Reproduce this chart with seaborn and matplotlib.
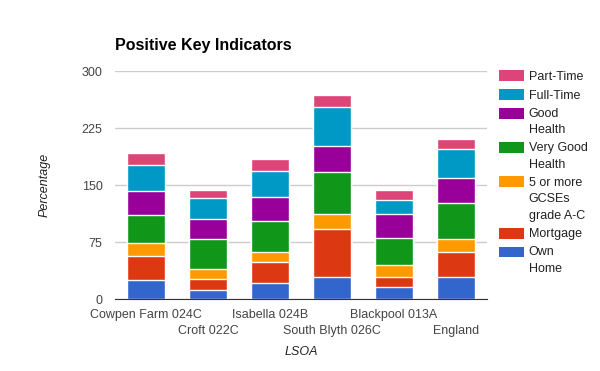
import numpy as np
import pandas as pd
import matplotlib
matplotlib.use("Agg")
import matplotlib.pyplot as plt
import seaborn as sns
from matplotlib.patches import Patch, Rectangle
from matplotlib.legend_handler import HandlerPatch

# data
areas = ["Cowpen Farm 024C", "Croft 022C", "Isabella 024B",
         "South Blyth 026C", "Blackpool 013A", "England"]
series = ["Own Home", "Mortgage", "5 or more GCSEs grade A-C",
          "Very Good Health", "Good Health", "Full-Time", "Part-Time"]
legend_labels = ["Own\nHome", "Mortgage", "5 or more\nGCSEs\ngrade A-C",
                 "Very Good\nHealth", "Good\nHealth", "Full-Time", "Part-Time"]
own_home = [25.5, 11.4, 21.5, 29.4, 16.2, 29.4]
mortgage = [30.8, 14.5, 26.8, 63.2, 13.2, 32.9]
gcses = [17.1, 13.2, 14.0, 19.8, 15.8, 16.3]
very_good_health = [36.8, 39.5, 40.9, 55.3, 35.6, 47.5]
good_health = [32.5, 27.2, 30.7, 33.0, 31.6, 33.7]
full_time = [33.4, 26.8, 35.2, 51.4, 18.4, 38.2]
part_time = [16.3, 11.0, 15.4, 15.8, 12.8, 12.8]

colors = ["#3366cc", "#dc3912", "#ff9900", "#109618", "#990099", "#0099c6", "#dd4477"]

LEG_LS = 1.5


class TopPatch(HandlerPatch):
    # put the swatch next to the first line of a wrapped label
    def __init__(self, nlines, **kw):
        super().__init__(**kw)
        self.nlines = nlines

    def create_artists(self, legend, orig_handle, xdescent, ydescent,
                       width, height, fontsize, trans):
        shift = (self.nlines - 1) / 2 * fontsize * LEG_LS * 0.95
        p = Rectangle((-xdescent, -ydescent + shift), width, height,
                      facecolor=orig_handle.get_facecolor(), edgecolor="none",
                      transform=trans)
        return [p]


df = pd.DataFrame({"LSOA": areas, "Own Home": own_home, "Mortgage": mortgage,
                   "5 or more GCSEs grade A-C": gcses,
                   "Very Good Health": very_good_health,
                   "Good Health": good_health, "Full-Time": full_time,
                   "Part-Time": part_time})
cum = df[series].cumsum(axis=1)
cum["LSOA"] = df["LSOA"]

sns.set_style("white")
plt.rcParams["font.family"] = ["Liberation Sans", "DejaVu Sans"]

fig = plt.figure(figsize=(6, 3.71), dpi=100)
ax = fig.add_axes([0.1917, 0.194, 0.62, 0.6146])

# stacked bars: draw cumulative totals from the top series down
for s, c in reversed(list(zip(series, colors))):
    sns.barplot(data=cum, x="LSOA", y=s, color=c, width=0.61,
                edgecolor="white", linewidth=1, saturation=1, ax=ax, zorder=3)

ax.set_ylim(0, 300)
ax.set_xlim(-0.5, 5.5)
ax.set_yticks([0, 75, 150, 225, 300])
ax.yaxis.grid(True, color="#cccccc", linewidth=1)
ax.set_axisbelow(True)
for sp in ["top", "right", "left"]:
    ax.spines[sp].set_visible(False)
ax.spines["bottom"].set_color("#333333")
ax.spines["bottom"].set_zorder(4)
ax.tick_params(axis="both", length=0, labelsize=9, labelcolor="#444444")
ax.tick_params(axis="y", pad=9)
ax.set_xticks(range(len(areas)))
ax.set_xticklabels(areas)
# staggered category labels: every second one on a lower row
for i, tick in enumerate(ax.xaxis.get_major_ticks()):
    tick.set_pad(7 if i % 2 == 0 else 19)

ax.set_xlabel("LSOA", fontsize=9, style="italic", color="#222222", labelpad=6)
ax.set_ylabel("Percentage", fontsize=9, style="italic", color="#222222", labelpad=22)
fig.text(0.1917, 0.865, "Positive Key Indicators", fontsize=11.5, fontweight="bold",
         color="#000000")

handles = [Patch(facecolor=c, edgecolor="none") for c in colors]
hmap = {h: TopPatch(lab.count("\n") + 1) for h, lab in zip(handles, legend_labels)}
leg = ax.legend(handles[::-1], legend_labels[::-1], loc="upper left",
                bbox_to_anchor=(1.02, 1.025), frameon=False, fontsize=9,
                handlelength=1.95, handleheight=0.96, labelspacing=0.48,
                handletextpad=0.4, borderaxespad=0, handler_map=hmap)
for t in leg.get_texts():
    t.set_color("#222222")
    t.set_linespacing(LEG_LS)

fig.savefig("out.png", dpi=100)
